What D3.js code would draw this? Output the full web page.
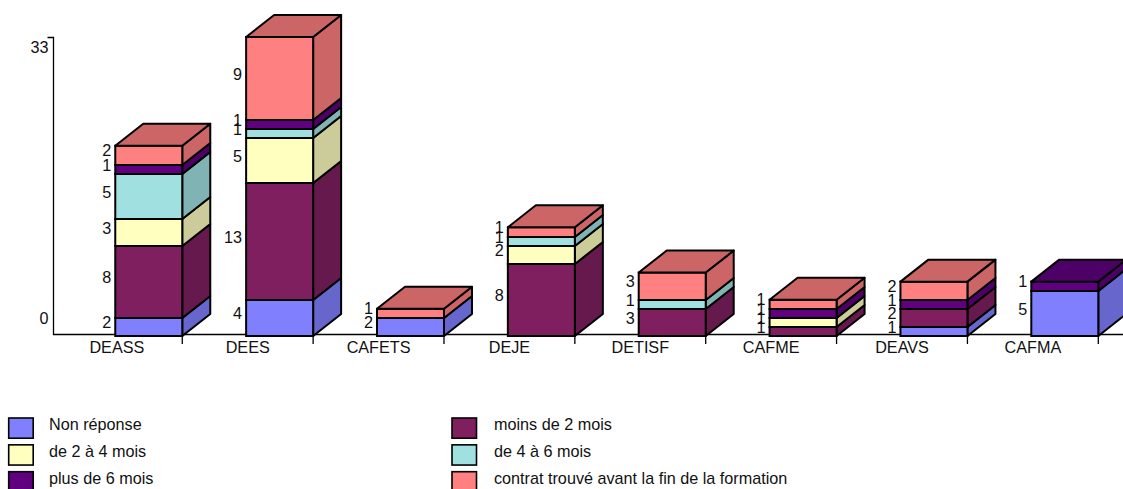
<!DOCTYPE html>
<html><head><meta charset="utf-8">
<script src="https://cdn.jsdelivr.net/npm/d3@7"></script>
<style>html,body{margin:0;padding:0;background:#fff;overflow:hidden}svg{display:block}text{font-family:"Liberation Sans",Arial,sans-serif;fill:#111}</style>
</head><body><svg id="c" width="1123" height="489"></svg>
<script>
const categories = ["DEASS","DEES","CAFETS","DEJE","DETISF","CAFME","DEAVS","CAFMA"];
const seriesNames = ["Non réponse","moins de 2 mois","de 2 à 4 mois","de 4 à 6 mois","plus de 6 mois","contrat trouvé avant la fin de la formation"];
const nonReponse = [2,4,2,0,0,0,1,5];
const moinsDe2 = [8,13,0,8,3,1,2,0];
const de2a4 = [3,5,0,2,0,1,0,0];
const de4a6 = [5,1,0,1,1,0,0,0];
const plusDe6 = [1,1,0,0,0,1,1,1];
const contrat = [2,9,1,1,3,1,2,0];
const colors = ["#8080ff","#801f5f","#ffffc0","#a0e0e0","#600080","#ff8080"];
const yTicks = [0,33];

const seriesValues = [nonReponse,moinsDe2,de2a4,de4a6,plusDe6,contrat];
const fs = 16.2;
const svg = d3.select("#c");
const x = d3.scaleBand().domain(categories).range([51.4,1098.3]);
const y = d3.scaleLinear().domain([0,33]).range([336,37]);
const depthX = 28, depthY = -22, barW = 67, sw = 2;
const shade = c => { const r = d3.rgb(c); return d3.rgb(r.r*.8,r.g*.8,r.b*.8).formatHex(); };

const table = categories.map((c,i)=>({c,v:seriesValues.map(s=>s[i])}));
const stacked = d3.stack().keys(d3.range(6)).value((d,k)=>d.v[k])(table);

// axes
const ya = svg.append("g").attr("transform","translate(53.5,0)")
  .call(d3.axisLeft(y).tickValues(yTicks).tickSize(0).tickFormat(d3.format("d")));
ya.select(".domain").attr("d","M-6,37.5H0V334.5H1070").attr("stroke","#000").attr("stroke-width",1.3).attr("fill","none");
ya.selectAll(".tick line").remove();
ya.selectAll(".tick text").attr("font-size",fs).attr("font-family",null).attr("x",-5).attr("dy",null)
  .attr("y",d=>d===0?-13:15);

const xa = svg.append("g").attr("transform","translate(0,334.5)")
  .call(d3.axisBottom(x).tickSize(0));
xa.select(".domain").remove();
xa.selectAll(".tick text").attr("font-size",fs).attr("font-family",null).attr("y",18.5).attr("dy",null);
xa.selectAll(".tick").append("line").attr("x1",x.bandwidth()/2).attr("x2",x.bandwidth()/2).attr("y1",0).attr("y2",9.5).attr("stroke","#000").attr("stroke-width",1.3);

// bars: every segment's pixel height is truncated, the last one closes on the scale
const poly = pts => pts.map(p=>p.join(",")).join(" ");
const base = new Map(categories.map(c=>[c,y(0)]));
const unitH = v => Math.floor(y(0)-y(v));
stacked.forEach((layer,k)=>{
  const g = svg.append("g");
  layer.forEach(d=>{
    const val = d[1]-d[0];
    if(!val) return;
    const c = d.data.c, x1 = x(c)+x.bandwidth(), x0 = x1-barW;
    const isTop = d[1]===d3.sum(d.data.v);
    const yb = base.get(c), yt = isTop ? y(d[1]) : yb-unitH(val);
    base.set(c,yt);
    g.append("polygon").attr("points",poly([[x1,yb],[x1+depthX,yb+depthY],[x1+depthX,yt+depthY],[x1,yt]]))
      .attr("fill",shade(colors[k])).attr("stroke","#000").attr("stroke-width",sw).attr("stroke-linejoin","round");
    g.append("rect").attr("x",x0).attr("y",yt).attr("width",barW).attr("height",yb-yt)
      .attr("fill",colors[k]).attr("stroke","#000").attr("stroke-width",sw);
    if(isTop){
      g.append("polygon").attr("points",poly([[x0,yt],[x0+depthX,yt+depthY],[x1+depthX,yt+depthY],[x1,yt]]))
        .attr("fill",shade(colors[k])).attr("stroke","#000").attr("stroke-width",sw).attr("stroke-linejoin","round");
    }
    svg.append("text").attr("x",x0-4).attr("y",(yb+yt)/2+1).attr("text-anchor","end").attr("font-size",fs).text(val);
  });
});

// legend
const legend = svg.append("g");
seriesNames.forEach((n,i)=>{
  const cx = i%2 ? 452 : 8.7, ry = 418 + Math.floor(i/2)*26.85;
  legend.append("rect").attr("x",cx).attr("y",ry).attr("width",24.5).attr("height",20.2)
    .attr("fill",colors[i]).attr("stroke","#000").attr("stroke-width",1.6);
  legend.append("text").attr("x",i%2?494:49).attr("y",ry+12).attr("font-size",fs).text(n);
});
</script></body></html>
